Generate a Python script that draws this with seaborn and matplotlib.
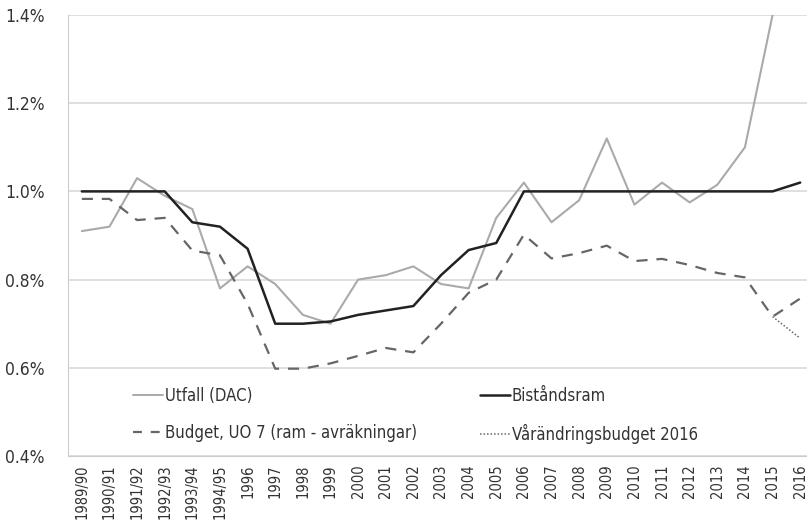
import matplotlib

matplotlib.use('Agg')
import matplotlib.pyplot as plt
import seaborn as sns
import numpy as np
import pandas as pd
from matplotlib.lines import Line2D

# Årskategorier (budgetår)
years = ["1989/90", "1990/91", "1991/92", "1992/93", "1993/94", "1994/95",
         "1996", "1997", "1998", "1999", "2000", "2001", "2002", "2003",
         "2004", "2005", "2006", "2007", "2008", "2009", "2010", "2011",
         "2012", "2013", "2014", "2015", "2016"]

# Andel av BNI (%)
utfall = [0.91, 0.92, 1.03, 0.99, 0.96, 0.78, 0.83, 0.79, 0.72, 0.70, 0.80,
          0.81, 0.83, 0.79, 0.78, 0.94, 1.02, 0.93, 0.98, 1.12, 0.97, 1.02,
          0.975, 1.015, 1.10, 1.40, np.nan]
bistandsram = [1.0, 1.0, 1.0, 1.0, 0.93, 0.92, 0.87, 0.70, 0.70, 0.705, 0.72,
               0.73, 0.74, 0.81, 0.867, 0.883, 1.0, 1.0, 1.0, 1.0, 1.0, 1.0,
               1.0, 1.0, 1.0, 1.0, 1.02]
budget = [0.983, 0.983, 0.935, 0.94, 0.866, 0.855, 0.745, 0.598, 0.598, 0.61,
          0.627, 0.645, 0.635, 0.70, 0.77, 0.80, 0.902, 0.848, 0.86, 0.877,
          0.842, 0.847, 0.833, 0.815, 0.805, 0.716, 0.757]
varandring_years = ["2015", "2016"]
varandring = [0.716, 0.667]

yticks = [0.4, 0.6, 0.8, 1.0, 1.2, 1.4]

df = pd.DataFrame({"pos": np.arange(len(years)), "year": years,
                   "utfall": utfall, "ram": bistandsram, "budget": budget})
df_var = pd.DataFrame({"pos": [years.index(y) for y in varandring_years],
                       "varde": varandring})

sns.set_style("white")
plt.rcParams['font.family'] = ['DejaVu Sans']
plt.rcParams['font.stretch'] = 'condensed'

fig = plt.figure(figsize=(8.07, 5.26), dpi=100)
ax = fig.add_axes([68 / 807, 70 / 526, (814 - 68) / 807, 441 / 526])

sns.lineplot(data=df, x="pos", y="utfall", ax=ax, color="#aaaaaa", lw=1.5, sort=False)
sns.lineplot(data=df, x="pos", y="ram", ax=ax, color="#222222", lw=1.8, sort=False)
sns.lineplot(data=df, x="pos", y="budget", ax=ax, color="#666666", lw=1.6,
             linestyle=(0, (5, 4)), sort=False)
sns.lineplot(data=df_var, x="pos", y="varde", ax=ax, color="#666666", lw=1.1,
             linestyle=(0, (1, 1.3)), sort=False)

ax.set_xlim(-0.5, len(years) - 0.5)
ax.set_ylim(0.4, 1.4)
ax.set_yticks(yticks)
ax.set_yticklabels([f"{v:.1f}%" for v in yticks], fontsize=12.5, color="#333333")
ax.set_xticks(np.arange(len(years)))
ax.set_xticklabels(years, rotation=90, fontsize=10.5, color="#333333")
ax.set_xticks(np.arange(len(years) + 1) - 0.5, minor=True)
ax.tick_params(axis='x', which='major', length=0, pad=6)
ax.tick_params(axis='x', which='minor', length=7, color="#cccccc", width=1)
ax.tick_params(axis='y', length=0, pad=17)
ax.set_xlabel("")
ax.set_ylabel("")

ax.grid(axis='y', color="#d9d9d9", lw=1.2)
ax.set_axisbelow(True)
for side in ["top", "right"]:
    ax.spines[side].set_visible(False)
ax.spines["left"].set_color("#cccccc")
ax.spines["bottom"].set_color("#cccccc")

handles = [
    Line2D([], [], color="#aaaaaa", lw=1.4),
    Line2D([], [], color="#666666", lw=1.6, linestyle=(0, (4, 4))),
    Line2D([], [], color="#222222", lw=1.8),
    Line2D([], [], color="#666666", lw=1.1, linestyle=(0, (1, 1.3))),
]
labels = ["Utfall (DAC)", "Budget, UO 7 (ram - avräkningar)",
          "Biståndsram", "Vårändringsbudget 2016"]
leg = ax.legend(handles, labels, ncol=2, frameon=False, fontsize=12,
                handlelength=1.8, handletextpad=0.1, columnspacing=3.8,
                labelspacing=1.15, loc="upper left", borderaxespad=0, borderpad=0,
                bbox_to_anchor=((133 - 68) / 746, 1 - (387 - 15) / 441))
for t in leg.get_texts():
    t.set_color("#333333")

plt.savefig("out.png", dpi=100)
plt.close()
